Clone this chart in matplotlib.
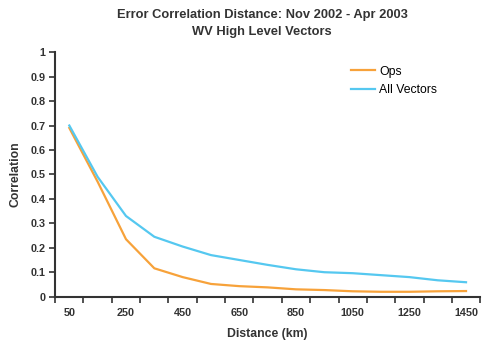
import matplotlib.pyplot as plt
import numpy as np

distance = [50, 150, 250, 350, 450, 550, 650, 750, 850, 950, 1050, 1150, 1250, 1350, 1450]
ops = [0.69, 0.47, 0.235, 0.116, 0.08, 0.052, 0.043, 0.038, 0.03, 0.027, 0.022, 0.02, 0.02, 0.022, 0.023]
all_vectors = [0.70, 0.49, 0.33, 0.245, 0.205, 0.17, 0.15, 0.13, 0.112, 0.10, 0.096, 0.088, 0.08, 0.067, 0.059]
x_labels = [50, 250, 450, 650, 850, 1050, 1250, 1450]
y_ticks = [0, 0.1, 0.2, 0.3, 0.4, 0.5, 0.6, 0.7, 0.8, 0.9, 1]

plt.rcParams["font.family"] = ["Liberation Sans", "DejaVu Sans"]
INK = "#333333"

fig = plt.figure(figsize=(4.88, 3.41), dpi=100)
ax = fig.add_axes([0.113, 0.13, 0.871, 0.717])

ax.plot(distance, ops, color="#F7A23A", linewidth=1.6, label="Ops")
ax.plot(distance, all_vectors, color="#55C8F0", linewidth=1.6, label="All Vectors")

ax.set_xlim(0, 1500)
ax.set_ylim(0, 1)

# category-style axis: labels at centres, tick marks between categories
ax.set_xticks(x_labels)
ax.set_xticklabels([str(v) for v in x_labels], fontsize=7.8, fontweight="bold", color=INK)
ax.tick_params(axis="x", which="major", length=0, pad=8)
ax.set_xticks(np.arange(0, 1501, 100), minor=True)
ax.tick_params(axis="x", which="minor", length=4, width=1.2, color=INK)

ax.set_yticks(y_ticks)
ax.set_yticklabels([f"{v:g}" for v in y_ticks], fontsize=7.8, fontweight="bold", color=INK)
ax.tick_params(axis="y", length=4, width=1.2, color=INK, pad=3)

for side in ("top", "right"):
    ax.spines[side].set_visible(False)
for side in ("left", "bottom"):
    ax.spines[side].set_linewidth(1.5)
    ax.spines[side].set_color(INK)

ax.set_xlabel("Distance (km)", fontsize=8.8, fontweight="bold", color=INK, labelpad=7)
ax.set_ylabel("Correlation", fontsize=8.8, fontweight="bold", color=INK, labelpad=6)

fig.text(0.537, 0.955, "Error Correlation Distance: Nov 2002 - Apr 2003",
         ha="center", va="center", fontsize=9.3, fontweight="bold", color=INK)
fig.text(0.537, 0.905, "WV High Level Vectors",
         ha="center", va="center", fontsize=9.3, fontweight="bold", color=INK)

ax.legend(loc="upper left", bbox_to_anchor=(0.67, 0.99), frameon=False,
          fontsize=8.8, handlelength=2.0, handletextpad=0.3, labelspacing=0.55)

fig.savefig("out.png", dpi=100)
